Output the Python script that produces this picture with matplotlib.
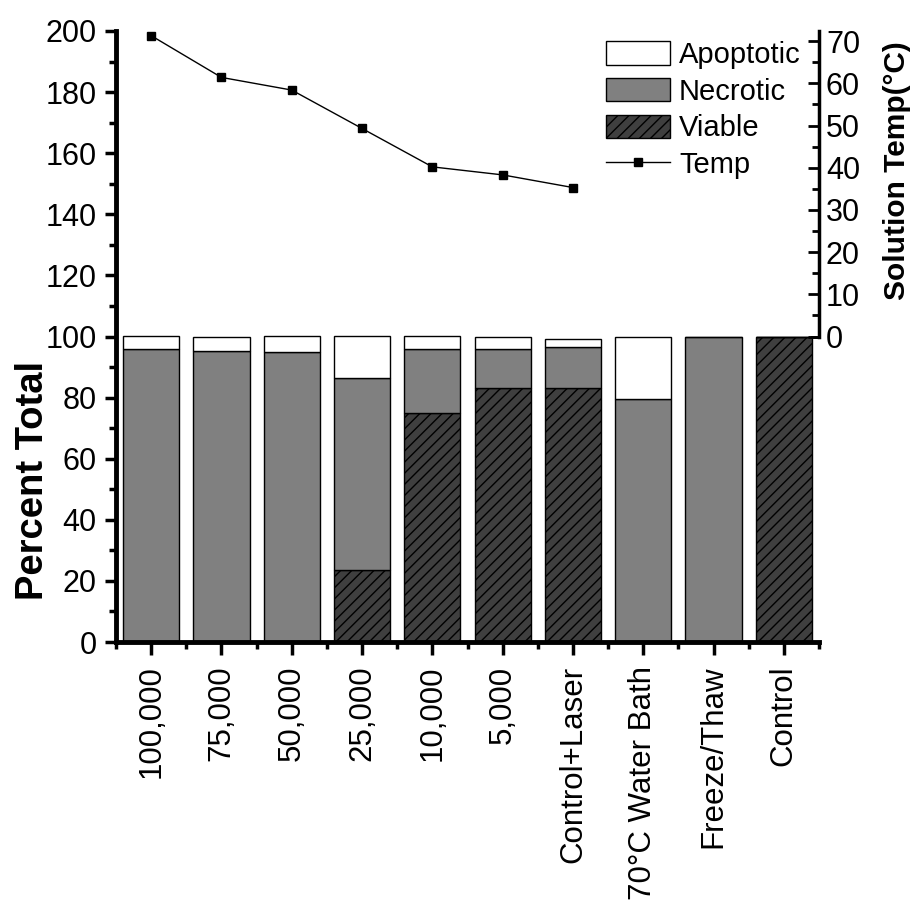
import matplotlib
matplotlib.use("Agg")
import matplotlib.pyplot as plt
from matplotlib.patches import Patch
from matplotlib.lines import Line2D
from matplotlib.ticker import MultipleLocator
import numpy as np

plt.rcParams["font.family"] = ["Liberation Sans", "DejaVu Sans"]
plt.rcParams["hatch.linewidth"] = 1.0

# ── data ─────────────────────────────────────────────────────────────────────
categories = ["100,000", "75,000", "50,000", "25,000", "10,000", "5,000",
              "Control+Laser", "70°C Water Bath", "Freeze/Thaw", "Control"]
viable    = [0, 0, 0, 23.5, 75.0, 83.0, 83.0, 0, 0, 99.7]
necrotic  = [95.8, 95.2, 94.8, 62.8, 20.8, 12.8, 13.6, 79.6, 100.0, 0]
apoptotic = [4.2, 4.8, 5.2, 13.7, 4.2, 3.9, 2.7, 20.4, 0, 0]
temp      = [71.3, 61.4, 58.4, 49.3, 40.2, 38.3, 35.3]   # °C, first 7 groups

# ── figure ───────────────────────────────────────────────────────────────────
fig = plt.figure(figsize=(9.18, 9.06), dpi=100)
ax = fig.add_axes([116 / 918, 1 - 642 / 906, 703 / 918, 611 / 906])

x = np.arange(len(categories))
v = np.array(viable)
n = np.array(necrotic)
a = np.array(apoptotic)

ax.bar(x, v, width=0.8, color="#3f3f3f", edgecolor="black", linewidth=1,
       hatch="///")
ax.bar(x, n, width=0.8, bottom=v, color="#808080", edgecolor="black",
       linewidth=1)
ax.bar(x, a, width=0.8, bottom=v + n, color="white", edgecolor="black",
       linewidth=1)

ax.set_xlim(-0.5, 9.5)
ax.set_ylim(0, 200)
ax.set_xticks(x)
ax.set_xticklabels(categories, rotation=90, fontsize=22.5)
ax.xaxis.set_minor_locator(MultipleLocator(1, offset=0.5))
ax.yaxis.set_major_locator(MultipleLocator(20))
ax.yaxis.set_minor_locator(MultipleLocator(10))
ax.tick_params(axis="y", which="major", direction="out", length=8, width=2.5,
               labelsize=22, pad=6)
ax.tick_params(axis="y", which="minor", direction="out", length=5, width=2.5)
ax.tick_params(axis="x", which="major", direction="out", length=9, width=2.5,
               pad=8)
ax.tick_params(axis="x", which="minor", direction="out", length=5, width=2.5)

for side in ("top", "right"):
    ax.spines[side].set_visible(False)
for side in ("left", "bottom"):
    ax.spines[side].set_linewidth(3.5)

# ── secondary axis (temperature) on the upper half ──────────────────────────
ax2 = ax.twinx()
top = 72.4
ax2.set_ylim(-top, top)
ax2.plot(x[:len(temp)], temp, "-", color="black", lw=1,
         marker="s", markersize=5.5)
ax2.set_yticks(np.arange(0, 71, 10))
ax2.set_yticks(np.arange(5, 71, 10), minor=True)
ax2.tick_params(axis="y", which="major", direction="in", length=8, width=2,
                labelsize=22, pad=5)
ax2.tick_params(axis="y", which="minor", direction="in", length=5, width=2)
for side in ("top", "left"):
    ax2.spines[side].set_visible(False)
ax2.spines["right"].set_bounds(0, top)
ax2.spines["right"].set_linewidth(2.5)
ax2.spines["bottom"].set_position(("data", 0))
ax2.spines["bottom"].set_bounds(9.4, 9.5)
ax2.spines["bottom"].set_linewidth(2)

# ── labels ──────────────────────────────────────────────────────────────────
fig.text(33 / 918, 1 - 480 / 906, "Percent Total", rotation=90,
         ha="center", va="center", fontsize=27.5, fontweight="bold")
fig.text(897 / 918, 1 - 171 / 906, "Solution Temp(°C)", rotation=90,
         ha="center", va="center", fontsize=21.5, fontweight="bold")

# ── legend ──────────────────────────────────────────────────────────────────
handles = [
    Patch(facecolor="white", edgecolor="black", linewidth=1),
    Patch(facecolor="#808080", edgecolor="black", linewidth=1),
    Patch(facecolor="#3f3f3f", edgecolor="black", linewidth=1, hatch="///"),
    Line2D([], [], color="black", lw=1, marker="s", markersize=5.5),
]
labels = ["Apoptotic", "Necrotic", "Viable", "Temp"]
fig.legend(handles, labels, loc="upper left",
           bbox_to_anchor=(606 / 918, 1 - 41 / 906), frameon=False,
           fontsize=21, handlelength=2.2, handleheight=0.86,
           handletextpad=0.3, labelspacing=0.3, borderpad=0,
           borderaxespad=0)

fig.savefig("out.png", dpi=100)
